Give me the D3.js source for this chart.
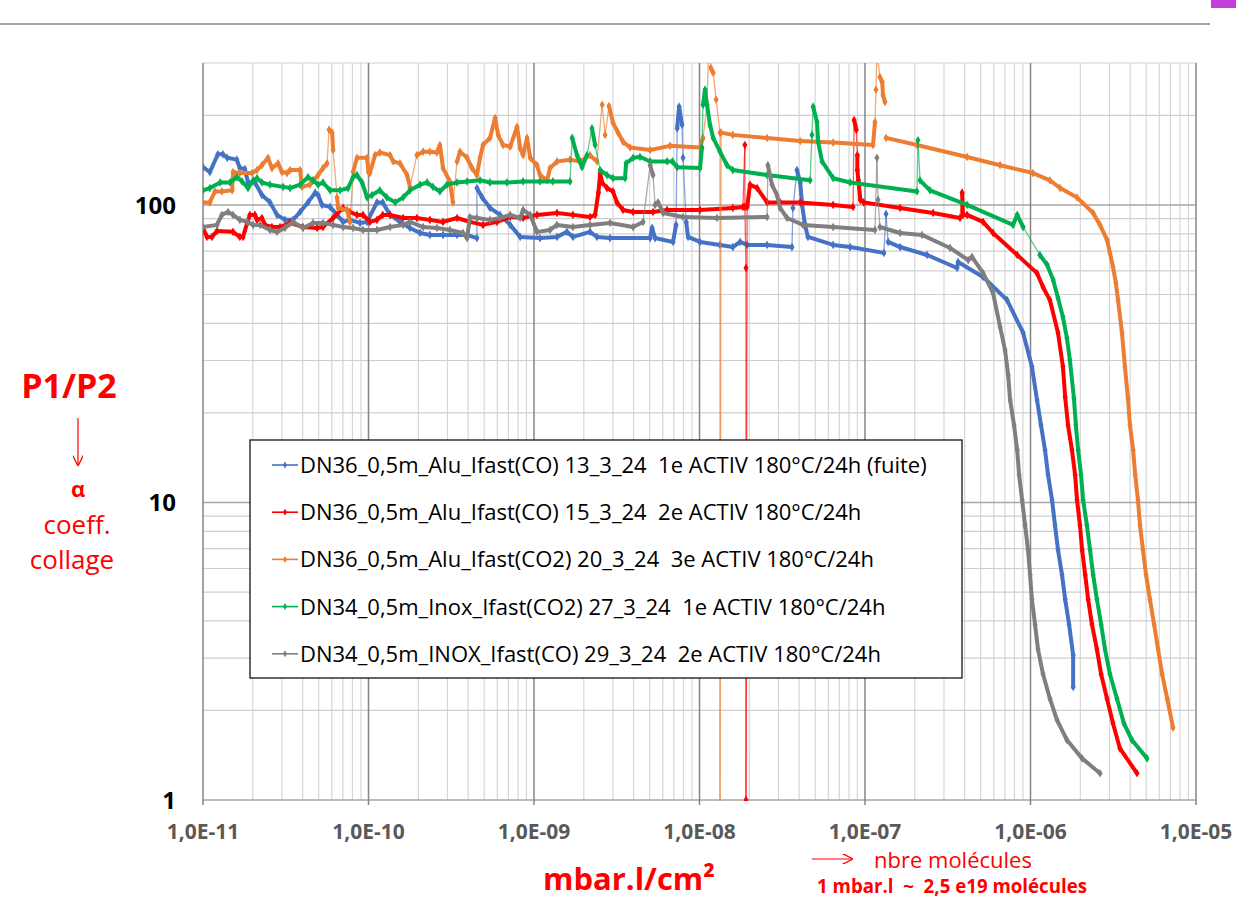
<!DOCTYPE html>
<html lang="fr">
<head>
<meta charset="UTF-8">
<title>P1/P2 - coeff. collage</title>
<script src="https://d3js.org/d3.v7.min.js"></script>
<style>
  body { margin: 0; background: #fff; }
  svg { display: block; font-family: "Open Sans", "Noto Sans", sans-serif; }
  text { white-space: pre; }
</style>
</head>
<body>
<svg id="chart" width="1236" height="901"></svg>
<script>
// axis ticks
const xTicks = [1e-11, 1e-10, 1e-9, 1e-8, 1e-7, 1e-6, 1e-5];
const xTickLabels = ['1,0E-11', '1,0E-10', '1,0E-09', '1,0E-08', '1,0E-07', '1,0E-06', '1,0E-05'];
const yTicks = [1, 10, 100];
const yTickLabels = ['1', '10', '100'];

const seriesNames = [
  'DN36_0,5m_Alu_Ifast(CO) 13_3_24  1e ACTIV 180°C/24h (fuite)',
  'DN36_0,5m_Alu_Ifast(CO) 15_3_24  2e ACTIV 180°C/24h',
  'DN36_0,5m_Alu_Ifast(CO2) 20_3_24  3e ACTIV 180°C/24h',
  'DN34_0,5m_Inox_Ifast(CO2) 27_3_24  1e ACTIV 180°C/24h',
  'DN34_0,5m_INOX_Ifast(CO) 29_3_24  2e ACTIV 180°C/24h'
];
const seriesColors = ['#4472C4', '#FF0000', '#ED7D31', '#00B050', '#7F7F7F'];

// [mbar.l/cm2, P1/P2] ; null = gap in the curve
const blue13 = [
  [1.0e-11,134],[1.10e-11,129],[1.23e-11,148],[1.32e-11,148],[1.40e-11,144],[1.60e-11,142],[1.67e-11,133],
  [1.79e-11,132],[1.87e-11,119],[2.06e-11,119],[2.27e-11,108],[2.54e-11,102],[2.80e-11,92.6],[3.13e-11,89.1],
  [3.50e-11,89.1],[3.86e-11,94.7],[4.31e-11,102],[4.76e-11,110],[4.96e-11,108],[5.24e-11,100],[5.86e-11,98.5],
  [6.46e-11,92.6],[7.02e-11,87.7],[7.73e-11,89.1],[8.89e-11,87.0],[9.8e-11,87.7],[1.125e-10,102],[1.22e-10,102],
  [1.35e-10,92.6],[1.55e-10,87.7],[1.78e-10,83.7],[2.05e-10,80.5],[2.35e-10,79.3],[2.82e-10,79.3],[3.43e-10,79.3],
  [3.94e-10,79.3],[4.52e-10,77.4],[4.52e-10,114],[4.86e-10,106],[5.42e-10,97.7],[6.24e-10,92.6],[7.18e-10,85.7],
  [8.25e-10,78.1],[1.087e-9,77.4],[1.377e-9,78.1],[1.58e-9,81.2],[1.72e-9,78.1],[2.18e-9,81.2],[2.40e-9,78.1],
  [2.88e-9,77.4],[5.03e-9,77.4],[5.17e-9,83.7],[5.39e-9,77.4],[6.92e-9,75.1],[7.22e-9,85.7],[7.33e-9,181],
  [7.53e-9,214],[7.84e-9,186],[7.95e-9,144],[8.31e-9,87.7],[8.53e-9,78.1],[1.007e-8,75.1],[1.33e-8,73.4],
  [1.59e-8,72.2],[1.76e-8,75.1],[1.94e-8,73.4],[2.56e-8,73.4],[3.62e-8,72.2],[3.67e-8,97.7],[3.88e-8,131],
  [4.06e-8,119],[4.17e-8,100],[4.34e-8,85.7],[4.52e-8,78.1],[6.42e-8,73.4],[8.13e-8,72.2],[1.30e-7,69.0],
  [1.34e-7,93.3],[1.38e-7,75.1],[1.63e-7,72.2],[2.37e-7,67.9],[3.60e-7,61.4],[3.65e-7,64.3],[5.17e-7,57.3],
  [7.22e-7,47.9],[9.02e-7,37.2],[1.02e-6,28.6],[1.095e-6,22.1],[1.157e-6,18.2],[1.224e-6,15.0],[1.276e-6,12.4],
  [1.349e-6,10.2],[1.406e-6,8.39],[1.466e-6,6.93],[1.55e-6,5.72],[1.62e-6,4.72],[1.71e-6,3.90],[1.81e-6,3.07],
  [1.81e-6,2.40]
];

const red15 = [
  [1.0e-11,83.7],[1.057e-11,78.1],[1.133e-11,78.1],[1.215e-11,81.8],[1.518e-11,81.2],[1.67e-11,78.1],[1.745e-11,78.1],
  [1.85e-11,87.0],[1.92e-11,92.6],[2.06e-11,92.6],[2.12e-11,89.1],[2.27e-11,90.4],[2.37e-11,85.7],[2.61e-11,84.3],
  [2.92e-11,84.3],[3.36e-11,87.0],[4.02e-11,84.3],[4.89e-11,83.7],[5.31e-11,84.3],[6.11e-11,90.4],[7.02e-11,97.7],
  [7.73e-11,94.7],[8.52e-11,92.6],[9.27e-11,92.6],[1.02e-10,87.7],[1.125e-10,89.1],[1.22e-10,92.6],[1.35e-10,92.6],
  [1.62e-10,90.4],[1.96e-10,90.4],[2.35e-10,89.1],[2.82e-10,87.7],[3.43e-10,90.4],[4.10e-10,87.7],[4.92e-10,85.7],
  [5.98e-10,87.7],[7.18e-10,91.1],[8.59e-10,90.4],[1.043e-9,92.6],[1.377e-9,94.0],[1.72e-9,92.6],[2.18e-9,91.1],
  [2.34e-9,92.6],[2.45e-9,110],[2.51e-9,128],[2.58e-9,119],[2.76e-9,114],[3.00e-9,111],[3.17e-9,102],[3.45e-9,96.2],
  [3.97e-9,94.7],[5.24e-9,94.7],[6.37e-9,96.2],[1.007e-8,96.2],[1.59e-8,97.7],[1.83e-8,98.5],[1.88e-8,159],
  [1.88e-8,98.5],[1.91e-8,61.4],[1.91e-8,1.0],[1.94e-8,98.5],[2.02e-8,117],[2.23e-8,114],[2.56e-8,102],
  [3.07e-8,102],[4.06e-8,102],[6.42e-8,100],[8.47e-8,98.5],[8.59e-8,193],[8.86e-8,179],[8.99e-8,147],
  [8.99e-8,131],[9.12e-8,121],[9.38e-8,104],[9.82e-8,102],[1.63e-7,97.7],[2.58e-7,94.0],[3.75e-7,90.4],
  [3.86e-7,110],[3.91e-7,92.6],[4.14e-7,92.6],[5.17e-7,87.7],[5.94e-7,80.5],[8.31e-7,67.9],[1.095e-6,59.0],
  [1.19e-6,53.0],[1.31e-6,47.9],[1.466e-6,37.2],[1.57e-6,28.6],[1.62e-6,22.6],[1.685e-6,18.2],[1.78e-6,15.0],
  [1.86e-6,12.4],[1.91e-6,10.2],[1.99e-6,8.39],[2.05e-6,6.93],[2.14e-6,5.72],[2.23e-6,4.72],[2.35e-6,3.90],
  [2.52e-6,3.21],[2.67e-6,2.65],[2.90e-6,2.19],[3.15e-6,1.81],[3.47e-6,1.49],[4.40e-6,1.23]
];

const orange20 = [
  [1.0e-11,102],[1.10e-11,102],[1.18e-11,111],[1.30e-11,111],[1.50e-11,112],[1.52e-11,129],[1.67e-11,128],
  [1.98e-11,128],[2.12e-11,131],[2.27e-11,136],[2.47e-11,144],[2.61e-11,133],[2.84e-11,138],[3.00e-11,129],
  [3.22e-11,128],[3.36e-11,131],[3.86e-11,131],[3.97e-11,115],[4.43e-11,117],[4.96e-11,126],[5.31e-11,133],
  [5.62e-11,138],[5.78e-11,179],[6.03e-11,175],[6.11e-11,153],[6.46e-11,106],[6.55e-11,97.7],[7.43e-11,96.2],
  [7.73e-11,87.7],[8.07e-11,129],[8.52e-11,144],[9.80e-11,144],[1.0e-10,129],[1.02e-10,128],[1.095e-10,147],
  [1.17e-10,150],[1.35e-10,147],[1.41e-10,140],[1.55e-10,138],[1.71e-10,126],[1.78e-10,115],[1.96e-10,147],
  [2.14e-10,151],[2.35e-10,151],[2.59e-10,150],[2.70e-10,159],[2.82e-10,133],[3.10e-10,120],[3.24e-10,102],
  [3.43e-10,140],[3.57e-10,151],[3.94e-10,144],[4.22e-10,133],[4.52e-10,126],[4.72e-10,144],[4.92e-10,159],
  [5.42e-10,168],[5.82e-10,196],[6.07e-10,172],[6.50e-10,159],[7.18e-10,157],[7.90e-10,183],[8.25e-10,155],
  [8.59e-10,147],[9.08e-10,168],[9.49e-10,144],[1.043e-9,136],[1.087e-9,126],[1.20e-9,121],[1.25e-9,133],
  [1.377e-9,140],[1.65e-9,142],[1.90e-9,140],[2.18e-9,147],[2.40e-9,140],[2.58e-9,217],[2.69e-9,172],
  [2.84e-9,215],[3.00e-9,189],[3.22e-9,175],[3.45e-9,163],[3.81e-9,156],[5.03e-9,153],[6.64e-9,158],
  [1.007e-8,156],[1.05e-8,168],[1.11e-8,217],[1.14e-8,360],[1.17e-8,289],[1.21e-8,278],[1.26e-8,226],
  [1.33e-8,175],[1.33e-8,0.9],[1.35e-8,175],[1.59e-8,172],[2.56e-8,168],[4.06e-8,164],[6.42e-8,162],
  [1.118e-7,159],[1.149e-7,190],[1.165e-7,244],[1.18e-7,332],[1.23e-7,269],[1.27e-7,259],[1.285e-7,234],
  [1.32e-7,222], null,
  [1.34e-7,168],[2.06e-7,159],[4.14e-7,145],[6.55e-7,136],[1.035e-6,128],[1.31e-6,121],[1.51e-6,114],
  [1.91e-6,106],[2.39e-6,94.0],[2.63e-6,85.7],[2.90e-6,76.3],[3.02e-6,69.0],[3.15e-6,61.9],[3.28e-6,54.7],
  [3.38e-6,47.9],[3.57e-6,37.2],[3.72e-6,28.6],[3.88e-6,22.4],[3.99e-6,18.2],[4.17e-6,15.0],[4.29e-6,12.4],
  [4.46e-6,10.2],[4.59e-6,8.39],[4.78e-6,6.93],[4.99e-6,5.72],[5.27e-6,4.72],[5.58e-6,3.90],[5.90e-6,3.21],
  [6.24e-6,2.65],[6.70e-6,2.19],[7.26e-6,1.75]
];

const green27 = [
  [1.0e-11,112],[1.10e-11,114],[1.27e-11,119],[1.456e-11,119],[1.60e-11,124],[1.72e-11,120],[1.87e-11,114],
  [2.01e-11,121],[2.12e-11,123],[2.27e-11,119],[2.54e-11,117],[3.05e-11,115],[3.36e-11,114],[3.86e-11,117],
  [4.31e-11,124],[4.62e-11,121],[4.96e-11,117],[5.31e-11,119],[5.86e-11,112],[6.73e-11,112],[7.53e-11,114],
  [8.07e-11,124],[8.52e-11,126],[9.14e-11,119],[9.80e-11,106],[1.05e-10,108],[1.17e-10,112],[1.29e-10,106],
  [1.45e-10,102],[1.62e-10,106],[1.78e-10,112],[2.05e-10,117],[2.26e-10,119],[2.45e-10,115],[2.70e-10,111],
  [2.98e-10,117],[3.43e-10,119],[3.94e-10,120],[4.72e-10,121],[5.42e-10,119],[6.86e-10,119],[8.59e-10,120],
  [1.087e-9,120],[1.30e-9,120],[1.65e-9,120],[1.70e-9,168],[1.82e-9,147],[1.95e-9,134],[2.09e-9,147],
  [2.24e-9,181],[2.34e-9,159],[2.51e-9,131],[2.76e-9,126],[3.00e-9,123],[3.55e-9,123],[3.60e-9,138],
  [3.97e-9,144],[4.37e-9,145],[5.03e-9,140],[6.37e-9,140],[6.86e-9,140],[7.33e-9,134],[1.007e-8,133],
  [1.035e-8,156],[1.05e-8,217],[1.08e-8,244],[1.11e-8,217],[1.157e-8,186],[1.21e-8,168],[1.33e-8,151],
  [1.466e-8,136],[1.59e-8,131],[2.56e-8,126],[4.66e-8,121],[4.78e-8,172],[4.86e-8,214],[5.13e-8,190],
  [5.21e-8,163],[5.50e-8,140],[6.42e-8,123],[8.13e-8,119],[2.06e-7,111],[2.09e-7,165],[2.15e-7,121],
  [2.47e-7,112],[4.14e-7,100],[7.84e-7,85.7],[8.31e-7,92.6],[9.02e-7,84.3],[1.14e-6,67.9],[1.26e-6,62.9],
  [1.37e-6,56.0],[1.466e-6,48.7],[1.57e-6,42.0],[1.66e-6,35.7],[1.73e-6,30.1],[1.83e-6,22.4],[1.88e-6,18.2],
  [1.94e-6,15.0],[2.02e-6,12.4],[2.08e-6,10.2],[2.19e-6,8.39],[2.29e-6,6.93],[2.39e-6,5.72],[2.52e-6,4.72],
  [2.67e-6,3.90],[2.82e-6,3.21],[3.02e-6,2.65],[3.33e-6,2.19],[3.67e-6,1.81],[4.10e-6,1.59],[5.06e-6,1.38]
];

const gray29 = [
  [1.0e-11,84.3],[1.215e-11,85.7],[1.30e-11,92.6],[1.416e-11,94.7],[1.518e-11,92.6],[1.67e-11,89.1],[1.85e-11,87.7],
  [2.01e-11,85.7],[2.21e-11,85.7],[2.54e-11,82.4],[2.80e-11,81.2],[3.13e-11,83.7],[3.50e-11,87.7],[4.02e-11,83.7],
  [4.62e-11,87.0],[5.31e-11,87.0],[6.11e-11,85.7],[7.02e-11,84.3],[8.07e-11,83.7],[9.27e-11,82.4],[1.125e-10,82.4],
  [1.35e-10,84.3],[1.62e-10,85.7],[1.78e-10,87.7],[2.14e-10,84.3],[2.59e-10,83.7],[3.10e-10,82.4],[3.72e-10,80.5],
  [3.94e-10,77.4],[4.10e-10,91.1],[4.52e-10,90.4],[5.42e-10,89.1],[6.24e-10,90.4],[7.18e-10,92.6],[8.25e-10,90.4],
  [8.59e-10,96.2],[9.49e-10,92.6],[1.043e-9,81.2],[1.25e-9,82.4],[1.377e-9,85.7],[1.72e-9,84.3],[2.18e-9,85.7],
  [2.88e-9,87.0],[3.97e-9,84.3],[4.56e-9,87.7],[5.03e-9,136],[5.24e-9,126],[5.39e-9,100],[5.62e-9,102],
  [6.03e-9,94.0],[7.95e-9,91.1],[1.276e-8,90.4],[2.56e-8,91.1],[2.59e-8,136],[2.74e-8,117],[2.94e-8,108],
  [3.07e-8,97.7],[3.38e-8,90.4],[4.22e-8,85.7],[6.42e-8,84.3],[1.149e-7,82.4],[1.18e-7,144],[1.20e-7,104],
  [1.23e-7,84.3],[1.63e-7,80.5],[2.21e-7,79.3],[3.265e-7,71.7],[4.20e-7,65.3],[4.43e-7,66.9],[5.17e-7,59.0],
  [5.94e-7,50.6],[6.55e-7,38.9],[7.02e-7,32.5],[7.33e-7,26.8],[7.53e-7,22.1],[7.95e-7,18.2],[8.31e-7,15.0],
  [8.53e-7,12.4],[8.9e-7,10.2],[9.27e-7,8.39],[9.66e-7,6.93],[9.94e-7,5.72],[1.02e-6,4.72],[1.065e-6,3.90],
  [1.11e-6,3.21],[1.19e-6,2.65],[1.31e-6,2.19],[1.445e-6,1.86],[1.66e-6,1.59],[2.05e-6,1.38],[2.63e-6,1.23]
];

const allSeries = [blue13, red15, orange20, green27, gray29];

const svg = d3.select('#chart');
const plotLeft = 203, plotRight = 1196, plotTop = 63, plotBottom = 800;

const x = d3.scaleLog().domain([1e-11, 1e-5]).range([plotLeft, plotRight]);
const y = d3.scaleLog().domain([1, 300]).range([plotBottom, plotTop]);

// slide decoration
svg.append('line').attr('x1', 0).attr('x2', 1210).attr('y1', 24).attr('y2', 24)
  .attr('stroke', '#a6a6a6').attr('stroke-width', 2);
svg.append('rect').attr('x', 1211).attr('y', 0).attr('width', 25).attr('height', 8).attr('fill', '#c13fd8');

// grid
const grid = svg.append('g').attr('id', 'grid');
const xMinor = [];
for (let e = -11; e < -5; e++) for (let m = 2; m <= 9; m++) xMinor.push(m * Math.pow(10, e));
const yMinor = [];
for (let e = 0; e <= 2; e++) for (let m = 2; m <= 9; m++) { const v = m * Math.pow(10, e); if (v <= 300) yMinor.push(v); }

grid.selectAll('.xminor').data(xMinor).join('line')
  .attr('x1', d => x(d)).attr('x2', d => x(d)).attr('y1', plotTop).attr('y2', plotBottom)
  .attr('stroke', '#d6d6d6').attr('stroke-width', 1.2);
grid.selectAll('.yminor').data(yMinor).join('line')
  .attr('x1', plotLeft).attr('x2', plotRight).attr('y1', d => y(d)).attr('y2', d => y(d))
  .attr('stroke', '#cfcfcf').attr('stroke-width', 1.2);
grid.selectAll('.ymajor').data(yTicks).join('line')
  .attr('x1', plotLeft).attr('x2', plotRight).attr('y1', d => y(d)).attr('y2', d => y(d))
  .attr('stroke', '#a6a6a6').attr('stroke-width', 1.5);
grid.selectAll('.xmajor').data(xTicks).join('line')
  .attr('x1', d => x(d)).attr('x2', d => x(d)).attr('y1', plotTop).attr('y2', plotBottom + 5)
  .attr('stroke', '#858585').attr('stroke-width', 1.5);

// tick labels
svg.append('g').selectAll('text').data(xTicks).join('text')
  .attr('x', d => x(d)).attr('y', 839)
  .attr('text-anchor', 'middle')
  .style('font-size', '21px').style('font-weight', 'bold').attr('fill', '#595959')
  .text((d, i) => xTickLabels[i]);

svg.append('g').selectAll('text').data(yTicks).join('text')
  .attr('x', 176).attr('y', d => y(d) + 9)
  .attr('text-anchor', 'end')
  .style('font-size', '24px').style('font-weight', 'bold').attr('fill', '#000')
  .text((d, i) => yTickLabels[i]);

// series
svg.append('clipPath').attr('id', 'plotclip')
  .append('rect').attr('x', plotLeft).attr('y', plotTop)
  .attr('width', plotRight - plotLeft).attr('height', plotBottom - plotTop + 1);

const plot = svg.append('g').attr('clip-path', 'url(#plotclip)');
const diamond = d3.symbol().type(d3.symbolDiamond).size(22);

// sparse jumps (spikes, long drops) are drawn thin, dense runs thick like the Excel markers
function isThin(a, b) {
  const dx = x(b[0]) - x(a[0]);
  const dy = y(Math.max(b[1], 0.5)) - y(Math.max(a[1], 0.5));
  const len = Math.hypot(dx, dy);
  return len > 80 || (Math.abs(dy) > 25 && Math.min(a[1], b[1]) > 45);
}

allSeries.forEach((pts, k) => {
  const g = plot.append('g').attr('class', 'series');
  const segs = [];
  for (let i = 1; i < pts.length; i++) {
    if (pts[i - 1] && pts[i]) segs.push([pts[i - 1], pts[i]]);
  }
  g.selectAll('line').data(segs).join('line')
    .attr('x1', d => x(d[0][0])).attr('y1', d => y(Math.max(d[0][1], 0.5)))
    .attr('x2', d => x(d[1][0])).attr('y2', d => y(Math.max(d[1][1], 0.5)))
    .attr('stroke', seriesColors[k])
    .attr('stroke-linecap', 'round')
    .attr('stroke-width', d => isThin(d[0], d[1]) ? 1.3 : 4)
    .attr('stroke-opacity', d => isThin(d[0], d[1]) ? 0.65 : 1);
  g.selectAll('path').data(pts.filter(p => p)).join('path')
    .attr('transform', d => `translate(${x(d[0])},${y(Math.max(d[1], 0.5))})`)
    .attr('d', diamond)
    .attr('fill', seriesColors[k]);
});

// legend
const legend = svg.append('g').attr('id', 'legend');
legend.append('rect').attr('x', 250).attr('y', 440).attr('width', 712).attr('height', 238)
  .attr('fill', '#fff').attr('stroke', '#000').attr('stroke-width', 1.2);
const rows = legend.selectAll('g.row').data(seriesNames).join('g')
  .attr('transform', (d, i) => `translate(0, ${465 + i * 47.2})`);
rows.append('line').attr('x1', 272).attr('x2', 298).attr('y1', 0).attr('y2', 0)
  .attr('stroke', (d, i) => seriesColors[i]).attr('stroke-width', 1.6);
rows.append('path').attr('transform', 'translate(285,0)')
  .attr('d', d3.symbol().type(d3.symbolDiamond).size(14)())
  .attr('fill', (d, i) => seriesColors[i]);
rows.append('text').attr('x', 300).attr('y', 8)
  .style('font-size', '22px').attr('fill', '#000')
  .text(d => d);

// y axis title
const red = '#FF0000';
svg.append('text').attr('x', 69).attr('y', 398).attr('text-anchor', 'middle')
  .style('font-size', '34px').style('font-weight', 'bold').attr('fill', red).text('P1/P2');
svg.append('defs').html(
  '<marker id="arrow" viewBox="0 0 10 10" refX="9" refY="5" markerWidth="9" markerHeight="9" orient="auto-start-reverse">' +
  '<path d="M0,0 L10,5 L0,10" fill="none" stroke="#FF0000" stroke-width="1.2"/></marker>');
svg.append('line').attr('x1', 78).attr('x2', 78).attr('y1', 418).attr('y2', 465)
  .attr('stroke', red).attr('stroke-width', 1.2).attr('marker-end', 'url(#arrow)');
svg.append('text').attr('x', 78).attr('y', 497).attr('text-anchor', 'middle')
  .style('font-size', '22px').style('font-weight', 'bold').attr('fill', red).text('α');
svg.append('text').attr('x', 77).attr('y', 534).attr('text-anchor', 'middle')
  .style('font-size', '26px').attr('fill', red).text('coeff.');
svg.append('text').attr('x', 72).attr('y', 569).attr('text-anchor', 'middle')
  .style('font-size', '26px').attr('fill', red).text('collage');

// x axis title + notes
svg.append('text').attr('x', 629).attr('y', 890).attr('text-anchor', 'middle')
  .style('font-size', '31px').style('font-weight', 'bold').attr('fill', red)
  .text('mbar.l/cm²');
svg.append('line').attr('x1', 812).attr('x2', 852).attr('y1', 859).attr('y2', 859)
  .attr('stroke', red).attr('stroke-width', 1.2).attr('marker-end', 'url(#arrow)');
svg.append('text').attr('x', 874).attr('y', 868)
  .style('font-size', '22px').attr('fill', red).text('nbre molécules');
svg.append('text').attr('x', 817).attr('y', 893)
  .style('font-size', '18.7px').style('font-weight', 'bold').attr('fill', red)
  .text('1 mbar.l  ~  2,5 e19 molécules');
</script>
</body>
</html>
